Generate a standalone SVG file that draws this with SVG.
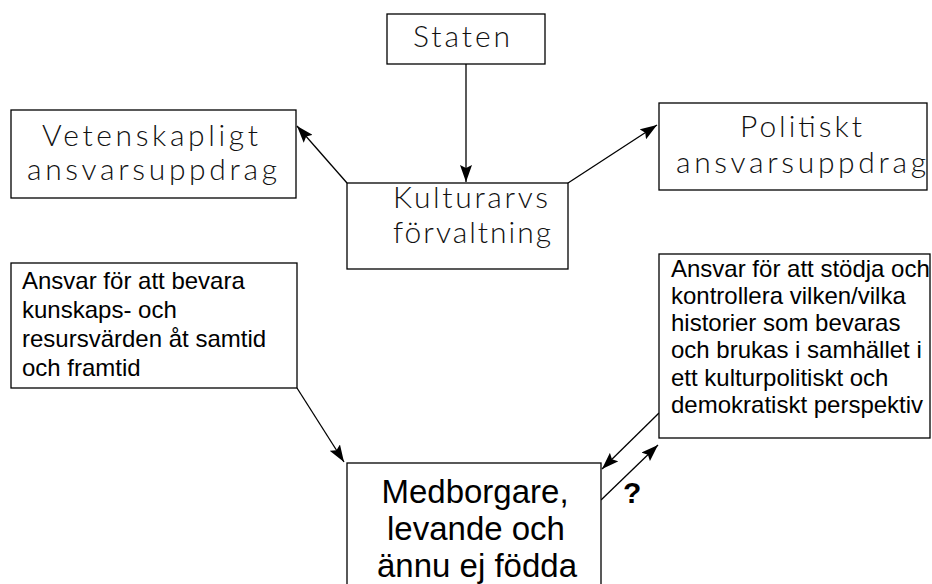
<svg xmlns="http://www.w3.org/2000/svg" width="932" height="584" viewBox="0 0 932 584">
<defs>
<style>
.box{fill:#fff;stroke:#000;stroke-width:1.3}
.g{font-family:Lato,"Open Sans","DejaVu Sans",sans-serif;font-weight:300;font-size:30px;fill:#111;text-anchor:middle}
.a{font-family:"Liberation Sans",Arial,sans-serif;font-size:24px;fill:#000}
.big{font-family:"Liberation Sans",Arial,sans-serif;font-size:33px;fill:#000;text-anchor:middle}
.q{font-family:"Liberation Sans",Arial,sans-serif;font-size:30px;font-weight:bold;fill:#000}
.c{stroke:#000;stroke-width:1.3;fill:none;marker-end:url(#ah)}
</style>
<marker id="ah" markerUnits="userSpaceOnUse" markerWidth="17" markerHeight="12" viewBox="0 0 17 12" refX="17" refY="6" orient="auto">
<path d="M0,0 L17,6 L0,12 L3,6 Z" fill="#000"/>
</marker>
</defs>
<g id="connectors">
<line class="c" x1="466" y1="64" x2="466" y2="182"/>
<line class="c" x1="347" y1="183" x2="297" y2="126"/>
<line class="c" x1="568" y1="183" x2="657" y2="125"/>
<line class="c" x1="297" y1="388" x2="344" y2="462"/>
<line class="c" x1="659" y1="413" x2="602" y2="469"/>
<line class="c" x1="601" y1="500" x2="658" y2="445"/>
</g>
<g id="staten">
<rect class="box" x="387" y="14" width="158" height="50"/>
<text class="g" x="461.5" y="47" textLength="97" lengthAdjust="spacing">Staten</text>
</g>
<g id="vetenskapligt">
<rect class="box" x="11" y="110" width="285" height="88"/>
<text class="g" x="150" y="146" textLength="216" lengthAdjust="spacing">Vetenskapligt</text>
<text class="g" x="152" y="180" textLength="250" lengthAdjust="spacing">ansvarsuppdrag</text>
</g>
<g id="politiskt">
<rect class="box" x="659" y="103" width="268" height="87"/>
<text class="g" x="801" y="137" textLength="122" lengthAdjust="spacing">Politiskt</text>
<text class="g" x="801" y="173" textLength="250" lengthAdjust="spacing">ansvarsuppdrag</text>
</g>
<g id="kulturarvs">
<rect class="box" x="347" y="183" width="221" height="86"/>
<text class="g" x="470.5" y="208" textLength="155" lengthAdjust="spacing">Kulturarvs</text>
<text class="g" x="472" y="243" textLength="158" lengthAdjust="spacing">förvaltning</text>
</g>
<g id="bevara">
<rect class="box" x="11" y="263" width="286" height="125"/>
<text class="a" x="22" y="289">Ansvar för att bevara</text>
<text class="a" x="22" y="318">kunskaps- och</text>
<text class="a" x="22" y="347">resursvärden åt samtid</text>
<text class="a" x="22" y="376">och framtid</text>
</g>
<g id="stodja">
<rect class="box" x="659" y="254" width="271" height="184"/>
<text class="a" x="671" y="277">Ansvar för att stödja och</text>
<text class="a" x="671" y="304">kontrollera vilken/vilka</text>
<text class="a" x="671" y="331">historier som bevaras</text>
<text class="a" x="671" y="358">och brukas i samhället i</text>
<text class="a" x="671" y="386">ett kulturpolitiskt och</text>
<text class="a" x="671" y="413">demokratiskt perspektiv</text>
</g>
<g id="medborgare">
<rect class="box" x="347" y="463" width="254" height="140"/>
<text class="big" x="475" y="503">Medborgare,</text>
<text class="big" x="476" y="540">levande och</text>
<text class="big" x="477" y="577">ännu ej födda</text>
</g>
<g id="question">
<text class="q" x="623" y="503">?</text>
</g>
</svg>
